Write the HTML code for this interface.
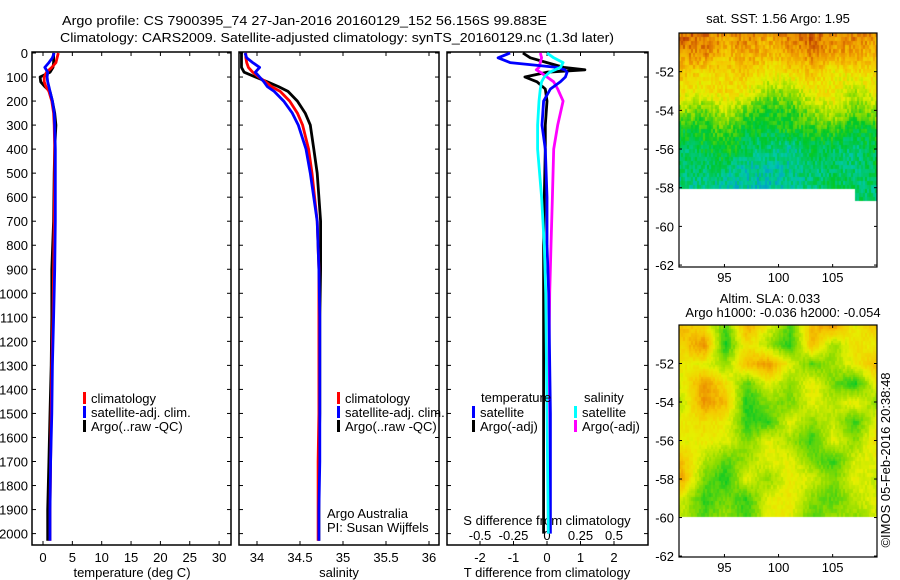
<!DOCTYPE html>
<html><head><meta charset="utf-8"><style>
html,body{margin:0;padding:0;background:#fff;width:900px;height:580px;overflow:hidden}
svg text{font-family:"Liberation Sans",sans-serif;font-size:13px;fill:#000}
canvas{position:absolute}
</style></head><body>
<canvas id="map1" width="198" height="234" style="left:679px;top:33px"></canvas>
<canvas id="map2" width="198" height="231" style="left:679px;top:325px"></canvas>
<svg id="chart" width="900" height="580" style="position:absolute;left:0;top:0">
<text x="62" y="25" textLength="485" lengthAdjust="spacingAndGlyphs">Argo profile: CS 7900395_74 27-Jan-2016 20160129_152 56.156S 99.883E</text>
<text x="60" y="42" textLength="554" lengthAdjust="spacingAndGlyphs">Climatology: CARS2009. Satellite-adjusted climatology: synTS_20160129.nc (1.3d later)</text>
</svg>
<script>
// ---- data ----
const depthTS = [0,20,40,60,80,100,120,140,160,200,250,300,400,500,700,900,1100,1300,1500,1700,1900,2000,2030];
const tClim = [2.6,2.4,2.2,1.5,0.6,0.2,0.2,0.5,1.0,1.5,1.8,1.9,2.0,2.0,1.9,1.8,1.7,1.5,1.4,1.3,1.2,1.2,1.2];
const tSat  = [1.9,1.6,1.0,0.3,0.8,0.7,0.8,1.0,1.2,1.6,1.9,2.0,2.1,2.1,2.1,2.0,1.8,1.6,1.5,1.3,1.2,1.2,1.2];
const tArgo = [1.8,1.8,1.8,1.7,1.2,-0.5,-0.4,0.3,1.2,1.6,2.0,2.2,2.0,1.9,1.8,1.5,1.5,1.4,1.2,1.0,0.8,0.8,0.8];
const sClim = [33.87,33.87,33.88,33.9,33.95,34.02,34.1,34.17,34.27,34.38,34.47,34.53,34.6,34.64,34.7,34.72,34.72,34.72,34.72,34.71,34.71,34.71,34.71];
const sSat  = [33.86,33.88,33.95,34.03,33.98,34.03,34.08,34.12,34.2,34.31,34.41,34.48,34.57,34.62,34.7,34.72,34.73,34.73,34.73,34.73,34.72,34.72,34.72];
const sArgo = [33.82,33.82,33.82,33.82,33.85,33.98,34.12,34.25,34.36,34.47,34.56,34.62,34.66,34.7,34.74,34.74,34.73,34.73,34.73,34.72,34.72,34.72,34.72];
const depthD = [0,20,40,60,70,80,100,120,150,200,300,400,600,800,1000,1500,2000];
const dTArgo = [-0.72,-0.5,0,0.5,1.13,0,-0.66,-0.3,-0.05,0,-0.05,-0.05,-0.08,-0.1,-0.1,-0.1,-0.1];
const dTSat  = [-1.1,-1.46,-1.1,0.3,0.53,0.6,0.55,0.4,0.1,-0.1,-0.15,-0.05,0,0,0.05,0.1,0.1];
const dSSat  = [0,0.05,0.12,0.1,0.06,0.02,-0.02,-0.04,-0.05,-0.06,-0.07,-0.07,-0.04,-0.02,-0.01,0.0,0.01];
const dSArgo = [-0.05,-0.04,-0.05,-0.06,-0.08,-0.05,0,0.05,0.08,0.12,0.08,0.05,0.04,0.03,0.02,0.01,0.01];
const depthTicks = [0,100,200,300,400,500,600,700,800,900,1000,1100,1200,1300,1400,1500,1600,1700,1800,1900,2000];
const tTicks = [0,5,10,15,20,25,30];
const sTicks = ["34","34.5","35","35.5","36"];
const dTTicks = ["-2","-1","0","1","2"];
const dSTicks = ["-0.5","-0.25","0","0.25","0.5"];
const latTicks = [-52,-54,-56,-58,-60,-62];
const lonTicks = [95,100,105];
const sstGrid = [
[.95,.92,.88,.9,.86,.92,.95,.88,.92,.88],
[.88,.9,.82,.86,.82,.85,.9,.86,.86,.82],
[.8,.76,.75,.8,.72,.76,.8,.72,.76,.74],
[.74,.72,.76,.72,.6,.62,.72,.74,.64,.72],
[.62,.55,.66,.55,.5,.52,.6,.68,.56,.62],
[.47,.5,.55,.47,.46,.5,.5,.52,.45,.5],
[.42,.45,.5,.42,.4,.36,.45,.42,.4,.45],
[.4,.42,.4,.36,.36,.38,.4,.42,.4,.45],
[.4,.38,.36,.35,.35,.38,.4,.45,.42,.4],
[null,null,null,null,null,null,null,null,.42,.42],
[null,null,null,null,null,null,null,null,.42,.42]];
const slaGrid = [
[.82,.75,.55,.85,.7,.55,.82,.88,.7,.82],
[.78,.9,.5,.75,.62,.5,.82,.6,.75,.7],
[.72,.7,.6,.82,.88,.7,.55,.62,.72,.82],
[.7,.88,.75,.55,.7,.6,.72,.58,.5,.72],
[.65,.88,.82,.5,.6,.58,.7,.65,.72,.6],
[.72,.75,.72,.52,.52,.7,.6,.66,.52,.72],
[.7,.72,.7,.58,.7,.62,.52,.7,.6,.75],
[.8,.65,.55,.62,.7,.7,.58,.52,.68,.7],
[.85,.58,.5,.7,.6,.72,.68,.58,.7,.66],
[.68,.52,.58,.52,.7,.72,.6,.55,.65,.7],
[.65,.55,.62,.52,.72,.7,.55,.62,.6,.68]];

const NS="http://www.w3.org/2000/svg";
const svg=document.getElementById('chart');
function mk(tag,attrs,parent){const e=document.createElementNS(NS,tag);for(const k in attrs)e.setAttribute(k,attrs[k]);(parent||svg).appendChild(e);return e;}
const yD=d=>53+0.2403*d;
const xT=t=>43+5.87*t;
const xS=s=>257+86*(s-34);
const xDT=t=>547+33.5*t;
const xDS=s=>547+134*s;
const TOP=52,BOT=545;

function frame(x0,x1,name){
  const r=mk('rect',{x:x0,y:TOP,width:x1-x0,height:BOT-TOP,fill:'none',stroke:'#000','stroke-width':1.5});
  
  
  depthTicks.forEach(d=>{mk('line',{x1:x0,x2:x0+4,y1:yD(d),y2:yD(d),stroke:'#000'});mk('line',{x1:x1,x2:x1-4,y1:yD(d),y2:yD(d),stroke:'#000'});});
}
frame(32,231,'temperature-axes');
frame(239,439,'salinity-axes');
frame(447,648,'difference-axes');
depthTicks.forEach(d=>{const t=mk('text',{x:28,y:yD(d)+5,'text-anchor':'end'});t.textContent=d;
  
  });

function xticks(vals,fx,x0,lab){vals.forEach(v=>{const x=fx(+v);mk('line',{x1:x,x2:x,y1:BOT,y2:BOT-4,stroke:'#000'});mk('line',{x1:x,x2:x,y1:TOP,y2:TOP+4,stroke:'#000'});
  const t=mk('text',{x:x,y:562,'text-anchor':'middle'});t.textContent=v;
  
  });}
xticks(tTicks,xT,32,'temperature-tick-label');
xticks(sTicks,xS,239,'salinity-tick-label');
xticks(dTTicks,xDT,447,'t-diff-tick-label');
dSTicks.forEach(v=>{const x=xDS(+v);const t=mk('text',{x:x,y:540,'text-anchor':'middle'});t.textContent=v;
  
  });
function label(x,y,s,name,anchor){const t=mk('text',{x:x,y:y,'text-anchor':anchor||'middle'});t.textContent=s;
  
  return t;}
label(132,577,'temperature (deg C)','x-axis-title-temperature');
label(339,577,'salinity','x-axis-title-salinity');
label(547,577,'T difference from climatology','x-axis-title-t-diff');
label(547,525,'S difference from climatology','x-axis-title-s-diff');
label(327,518,'Argo Australia','credit-line-1','start');
label(327,532,'PI: Susan Wijffels','credit-line-2','start');

function series(xs,ds,fx,color,name){
  const pts=xs.map((v,i)=>fx(v).toFixed(1)+','+yD(ds[i]).toFixed(1)).join(' ');
  const p=mk('polyline',{points:pts,fill:'none',stroke:color,'stroke-width':2.8,'stroke-linejoin':'round'});
  
  
}
series(tArgo,depthTS,xT,'#000','temperature-argo-line');
series(tClim,depthTS,xT,'#f00','temperature-climatology-line');
series(tSat,depthTS,xT,'#00f','temperature-satellite-line');
series(sArgo,depthTS,xS,'#000','salinity-argo-line');
series(sClim,depthTS,xS,'#f00','salinity-climatology-line');
series(sSat,depthTS,xS,'#00f','salinity-satellite-line');
series(dTArgo,depthD,xDT,'#000','t-diff-argo-line');
series(dSArgo,depthD,xDS,'#f0f','s-diff-argo-line');
series(dTSat,depthD,xDT,'#00f','t-diff-satellite-line');
series(dSSat,depthD,xDS,'#0ff','s-diff-satellite-line');

function legend(x,y,color,text,name){
  const r=mk('rect',{x:x,y:y-10,width:3,height:12,fill:color});
  
  
  label(x+8,y+1,text,name,'start');
}
legend(83,402,'#f00','climatology','legend-climatology');
legend(83,416,'#00f','satellite-adj. clim.','legend-satellite-adj');
legend(83,430,'#000','Argo(..raw -QC)','legend-argo');
legend(337,402,'#f00','climatology','legend-climatology-2');
legend(337,416,'#00f','satellite-adj. clim.','legend-satellite-adj-2');
legend(337,430,'#000','Argo(..raw -QC)','legend-argo-2');
label(481,402,'temperature','legend-temperature-heading','start');
label(584,402,'salinity','legend-salinity-heading','start');
legend(472,416,'#00f','satellite','legend-t-satellite');
legend(472,430,'#000','Argo(-adj)','legend-t-argo');
legend(574,416,'#0ff','satellite','legend-s-satellite');
legend(574,430,'#f0f','Argo(-adj)','legend-s-argo');

function mapAxes(top,h,latTop,latBot,name){
  const r=mk('rect',{x:679,y:top,width:198,height:h,fill:'none',stroke:'#000','stroke-width':1.2});
  
  
  const fy=l=>top+(latTop-l)/(latTop-latBot)*h;
  latTicks.forEach(l=>{const y=fy(l);mk('line',{x1:679,x2:682,y1:y,y2:y,stroke:'#000'});mk('line',{x1:877,x2:874,y1:y,y2:y,stroke:'#000'});
    label(674,y+5,String(l),'lat-tick-label','end');});
  lonTicks.forEach(l=>{const x=679+(l-90.8)*10.82;mk('line',{x1:x,x2:x,y1:top,y2:top+3,stroke:'#000'});mk('line',{x1:x,x2:x,y1:top+h,y2:top+h-3,stroke:'#000'});
    label(x,top+h+15,String(l),'lon-tick-label');});
}
mapAxes(33,234,-50,-62.1,'sst-map-frame');
mapAxes(325,232,-50,-62.05,'sla-map-frame');
label(778,23,'sat. SST: 1.56 Argo: 1.95','sst-map-title');
label(770,303,'Altim. SLA: 0.033','sla-map-title');
label(783,317,'Argo h1000: -0.036 h2000: -0.054','sla-map-subtitle');
const cr=label(0,0,'©IMOS 05-Feb-2016 20:38:48','imos-credit','middle');
cr.setAttribute('transform','translate(890,460) rotate(-90)');

function cmap(v){
  const stops=[[0,[0,0,140]],[0.2,[0,80,255]],[0.35,[0,200,170]],[0.48,[0,200,40]],[0.6,[140,220,0]],[0.7,[230,240,0]],[0.8,[245,200,0]],[0.9,[235,140,0]],[1,[180,50,0]]];
  v=Math.max(0,Math.min(1,v));
  for(let i=1;i<stops.length;i++){if(v<=stops[i][0]){const a=stops[i-1],b=stops[i];const f=(v-a[0])/(b[0]-a[0]);return a[1].map((c,k)=>Math.round(c+(b[1][k]-c)*f));}}
  return stops[stops.length-1][1];
}
function hash(x,y){let h=(x*374761393+y*668265263)|0;h=(h^(h>>>13))*1274126177|0;return ((h^(h>>>16))>>>0)/4294967296;}
function drawMap(id,grid,h,latTop,latBot,latCut,noise){
  const c=document.getElementById(id).getContext('2d');
  const W=198;
  for(let py=0;py<h;py+=2)for(let px=0;px<W;px+=2){
    const lat=latTop-(py/h)*(latTop-latBot);const lon=90.8+px/10.82;
    if(lat<latCut)continue;
    const gy=(-50-lat);const gx=(lon-91)/2;
    const y0=Math.max(0,Math.min(grid.length-1,Math.floor(gy))),y1=Math.min(grid.length-1,y0+1);
    const x0=Math.max(0,Math.min(9,Math.floor(gx))),x1=Math.min(9,x0+1);
    const fy=Math.max(0,Math.min(1,gy-y0)),fx=Math.max(0,Math.min(1,gx-x0));
    const a=grid[y0][x0],b=grid[y0][x1],cc=grid[y1][x0],d=grid[y1][x1];
    if(a==null||b==null||cc==null||d==null)continue;
    let v=a*(1-fx)*(1-fy)+b*fx*(1-fy)+cc*(1-fx)*fy+d*fx*fy;
    v+=(hash(px>>1,py>>2)-0.5)*noise;
    const col=cmap(v);c.fillStyle='rgb('+col.join(',')+')';c.fillRect(px,py,2,2);
  }
}
drawMap('map1',sstGrid,234,-50,-62.1,-58.6,0.12);
drawMap('map2',slaGrid,231,-50,-62.05,-60,0.05);
</script>
</body></html>
